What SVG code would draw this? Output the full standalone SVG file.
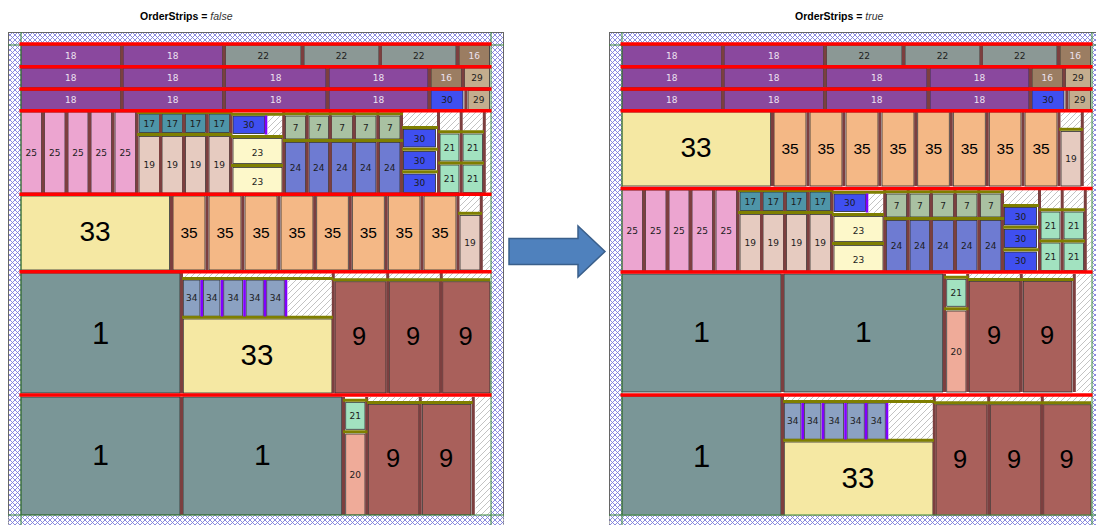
<svg xmlns="http://www.w3.org/2000/svg" width="1096" height="525" viewBox="0 0 1096 525">
<defs>
<style>
.p{stroke:#2b2b2b;stroke-width:0.8}
.c18{fill:#8a489e}.c22{fill:#8b9895}.c16{fill:#9b7d62}.c29{fill:#c4ad8e}.c30{fill:#3f4ff0}.c25{fill:#eca5d0}.c17{fill:#4e95a8}.c19{fill:#e6cbc0}.c23{fill:#fdf8ca}.c7{fill:#a9c1a2}.c24{fill:#6e7bd2}.c21{fill:#a2e2c0}.c33{fill:#f5e8a3}.c35{fill:#f4b886}.c1{fill:#7a9697}.c34{fill:#8ba1c2}.c9{fill:#a9605b}.c20{fill:#efab99}
.w{fill:url(#wh)}
.s{stroke:#7c3f3f;stroke-width:3;fill:none}
.o{stroke:#7f7f00;stroke-width:3;fill:none}
.u{stroke:#8000ff;stroke-width:2.6;fill:none}
.r{stroke:#ff0000;stroke-width:3.4;fill:none}
.g{stroke:#3a8a3a;stroke-width:1;fill:none}
.t{font-family:"DejaVu Sans",Verdana,sans-serif;font-size:9px;text-anchor:middle;fill:#1c1c1c}
.lt{fill:#ece2f0}
.b{font-family:"Liberation Sans",Arial,sans-serif;text-anchor:middle;fill:#000}
.ttl{font-family:"Liberation Sans",Arial,sans-serif;font-size:10.5px;fill:#000}
</style>
<pattern id="xh" patternUnits="userSpaceOnUse" width="5" height="5">
<rect width="5" height="5" fill="#fff"/>
<path d="M0,0L5,5M5,0L0,5" stroke="#7e7edc" stroke-width="0.9"/>
</pattern>
<pattern id="wh" patternUnits="userSpaceOnUse" width="6" height="6">
<rect width="6" height="6" fill="#fff"/>
<path d="M-1,1L1,-1M0,6L6,0M5,7L7,5" stroke="#b4b4b4" stroke-width="0.8"/>
</pattern>
</defs>
<rect width="1096" height="525" fill="#fff"/>

<text class="ttl" x="140" y="19.5"><tspan font-weight="bold">OrderStrips = </tspan><tspan font-style="italic" fill="#333">false</tspan></text>
<text class="ttl" x="795" y="19.5"><tspan font-weight="bold">OrderStrips = </tspan><tspan font-style="italic" fill="#333">true</tspan></text>

<path id="arrow" d="M509,238.5H578V226L605,251.5L578,277V264.5H509Z" fill="#4f81bd" stroke="#3a5f8b" stroke-width="1.5"/>

<!-- ================= LEFT PANEL ================= -->
<g id="panel-false">
<rect x="8.5" y="32.5" width="495" height="500" fill="url(#xh)" stroke="#666" stroke-width="1"/>
<rect x="21" y="45" width="470" height="470" fill="#fff"/>

<g id="L-rows">
<rect class="p c18" x="21" y="45.5" width="99.5" height="20"/>
<rect class="p c18" x="123" y="45.5" width="99.5" height="20"/>
<rect class="p c22" x="225.5" y="45.5" width="75.5" height="20"/>
<rect class="p c22" x="304" y="45.5" width="75" height="20"/>
<rect class="p c22" x="381.5" y="45.5" width="74.5" height="20"/>
<rect class="p c16" x="459" y="45.5" width="30.5" height="20"/>
<rect class="p c18" x="21" y="68" width="99.5" height="19.5"/>
<rect class="p c18" x="123" y="68" width="99.5" height="19.5"/>
<rect class="p c18" x="225.5" y="68" width="100.5" height="19.5"/>
<rect class="p c18" x="329" y="68" width="99" height="19.5"/>
<rect class="p c16" x="431" y="68" width="30.5" height="19.5"/>
<rect class="p c29" x="464.5" y="68" width="25" height="19.5"/>
<rect class="p c18" x="21" y="90.5" width="99.5" height="19"/>
<rect class="p c18" x="123" y="90.5" width="99.5" height="19"/>
<rect class="p c18" x="225.5" y="90.5" width="100.5" height="19"/>
<rect class="p c18" x="329" y="90.5" width="99" height="19"/>
<rect class="p c30" x="431" y="90.5" width="32" height="19"/>
<rect class="p c29" x="468" y="90.5" width="21.5" height="19"/>
<path class="s" d="M121.8,45V110M224,45V110M302.5,45V66M380.3,45V66M457.5,45V66M327.5,66V110M429.5,66V110M463,66V89M465.8,89V110"/>
<text class="t lt" x="70.8" y="58.5">18</text><text class="t lt" x="172.8" y="58.5">18</text>
<text class="t" x="263.3" y="58.5">22</text><text class="t" x="341.5" y="58.5">22</text><text class="t" x="418.8" y="58.5">22</text>
<text class="t lt" x="474.3" y="58.5">16</text>
<text class="t lt" x="70.8" y="80.5">18</text><text class="t lt" x="172.8" y="80.5">18</text><text class="t lt" x="275.8" y="80.5">18</text><text class="t lt" x="378.5" y="80.5">18</text>
<text class="t lt" x="446.3" y="80.5">16</text><text class="t" x="477" y="80.5">29</text>
<text class="t lt" x="70.8" y="103">18</text><text class="t lt" x="172.8" y="103">18</text><text class="t lt" x="275.8" y="103">18</text><text class="t lt" x="378.5" y="103">18</text>
<text class="t" x="447" y="103">30</text><text class="t" x="478.8" y="103">29</text>
</g>

<g id="L-strip-mixed">
<rect class="p c25" x="21" y="112" width="20.5" height="81"/>
<rect class="p c25" x="44.5" y="112" width="20.5" height="81"/>
<rect class="p c25" x="68" y="112" width="20" height="81"/>
<rect class="p c25" x="91" y="112" width="20.5" height="81"/>
<rect class="p c25" x="115" y="112" width="20.5" height="81"/>
<rect class="p c17" x="139" y="114" width="20.5" height="18.5"/>
<rect class="p c17" x="162" y="114" width="20.5" height="18.5"/>
<rect class="p c17" x="185.5" y="114" width="20" height="18.5"/>
<rect class="p c17" x="209" y="114" width="20.5" height="18.5"/>
<rect class="p c19" x="139" y="136.5" width="20.5" height="56.5"/>
<rect class="p c19" x="162" y="136.5" width="20.5" height="56.5"/>
<rect class="p c19" x="185.5" y="136.5" width="20" height="56.5"/>
<rect class="p c19" x="209" y="136.5" width="20.5" height="56.5"/>
<rect class="p c30" x="233" y="116" width="31.5" height="17.5"/>
<rect class="w" x="267.5" y="115" width="14.5" height="20"/>
<rect class="p c23" x="233" y="138.5" width="49" height="25"/>
<rect class="p c23" x="233" y="167.5" width="49" height="25.5"/>
<rect class="p c7" x="285.5" y="116" width="20" height="23"/>
<rect class="p c7" x="309" y="116" width="19.5" height="23"/>
<rect class="p c7" x="331.5" y="116" width="21" height="23"/>
<rect class="p c7" x="355.5" y="116" width="20.5" height="23"/>
<rect class="p c7" x="379.5" y="116" width="20.5" height="23"/>
<rect class="p c24" x="285.5" y="142.5" width="20" height="50.5"/>
<rect class="p c24" x="309" y="142.5" width="19.5" height="50.5"/>
<rect class="p c24" x="331.5" y="142.5" width="21" height="50.5"/>
<rect class="p c24" x="355.5" y="142.5" width="20.5" height="50.5"/>
<rect class="p c24" x="379.5" y="142.5" width="20.5" height="50.5"/>
<rect class="w" x="403" y="112" width="34" height="14"/>
<rect class="p c30" x="403.5" y="129.5" width="32" height="17.5"/>
<rect class="p c30" x="403.5" y="151.5" width="32" height="18"/>
<rect class="p c30" x="403.5" y="174" width="32" height="18.5"/>
<rect class="w" x="440" y="112" width="19" height="18"/>
<rect class="w" x="463" y="112" width="19.5" height="18"/>
<rect class="p c21" x="440" y="134" width="19" height="27"/>
<rect class="p c21" x="440" y="165" width="19" height="27.5"/>
<rect class="p c21" x="463" y="134" width="19.5" height="27"/>
<rect class="p c21" x="463" y="165" width="19.5" height="27.5"/>
<rect class="w" x="486" y="112" width="4.5" height="81"/>
<path class="s" d="M43,112V193M66.5,112V193M89.5,112V193M113,112V193M137,112V193M160.5,112V193M183.8,112V193M207.3,112V193M231,112V193M283.7,112V193M307.2,112V193M330.2,112V193M354,112V193M377.8,112V193M401.5,112V193M438.5,112V193M461.2,112V193M484.3,112V193"/>
<path class="o" d="M137,112.5H232M137,134.5H232M231,114.3H283M231,136.5H283M231,165.5H283M283,113.8H403M283,140.5H403M402,127.5H438M402,149.3H438M402,171.7H438M438,131.7H484M438,163H484"/>
<path class="u" d="M266,115.5V134.5"/>
<text class="t" font-size="9.5" x="31.3" y="155.7">25</text><text class="t" font-size="9.5" x="54.8" y="155.7">25</text><text class="t" font-size="9.5" x="78" y="155.7">25</text><text class="t" font-size="9.5" x="101.3" y="155.7">25</text><text class="t" font-size="9.5" x="125.3" y="155.7">25</text>
<text class="t" font-size="9.5" fill="#eef6f8" x="149.3" y="127">17</text><text class="t" font-size="9.5" fill="#eef6f8" x="172.3" y="127">17</text><text class="t" font-size="9.5" fill="#eef6f8" x="195.5" y="127">17</text><text class="t" font-size="9.5" fill="#eef6f8" x="219.3" y="127">17</text>
<text class="t" font-size="10" x="149.3" y="168.2">19</text><text class="t" font-size="10" x="172.3" y="168.2">19</text><text class="t" font-size="10" x="195.5" y="168.2">19</text><text class="t" font-size="10" x="219.3" y="168.2">19</text>
<text class="t" font-size="9.5" x="248.7" y="128">30</text>
<text class="t" font-size="12.5" x="257.5" y="155.6">23</text><text class="t" font-size="12.5" x="257.5" y="184.8">23</text>
<text class="t" font-size="10" x="295.5" y="131.2">7</text><text class="t" font-size="10" x="318.8" y="131.2">7</text><text class="t" font-size="10" x="342" y="131.2">7</text><text class="t" font-size="10" x="365.8" y="131.2">7</text><text class="t" font-size="10" x="389.8" y="131.2">7</text>
<text class="t" font-size="10" x="295.5" y="171.4">24</text><text class="t" font-size="10" x="318.8" y="171.4">24</text><text class="t" font-size="10" x="342" y="171.4">24</text><text class="t" font-size="10" x="365.8" y="171.4">24</text><text class="t" font-size="10" x="389.8" y="171.4">24</text>
<text class="t" font-size="9.5" x="419.5" y="141.7">30</text><text class="t" font-size="9.5" x="419.5" y="163.9">30</text><text class="t" font-size="9.5" x="419.5" y="186.4">30</text>
<text class="t" font-size="10" x="449.5" y="151.2">21</text><text class="t" font-size="10" x="472.8" y="151.2">21</text><text class="t" font-size="10" x="449.5" y="182.4">21</text><text class="t" font-size="10" x="472.8" y="182.4">21</text>
</g>

<g id="L-strip-33-35">
<rect class="p c33" x="21" y="196" width="148.5" height="74"/>
<rect class="p c35" x="173" y="196" width="32" height="74"/>
<rect class="p c35" x="209" y="196" width="32" height="74"/>
<rect class="p c35" x="245" y="196" width="32" height="74"/>
<rect class="p c35" x="281" y="196" width="32" height="74"/>
<rect class="p c35" x="316.7" y="196" width="31.6" height="74"/>
<rect class="p c35" x="352.3" y="196" width="32" height="74"/>
<rect class="p c35" x="388.3" y="196" width="31.7" height="74"/>
<rect class="p c35" x="424" y="196" width="32" height="74"/>
<rect class="w" x="460" y="196" width="20" height="16"/>
<rect class="p c19" x="460" y="215.5" width="20" height="54.5"/>
<rect class="w" x="482.7" y="196" width="7.8" height="74"/>
<path class="s" d="M171.5,196V270M207,196V270M242.8,196V270M278.8,196V270M314.7,196V270M350.3,196V270M386.3,196V270M422,196V270M458,196V270M481.3,196V270"/>
<path class="o" d="M458,213.3H482"/>
<text class="b" font-size="28" x="95" y="240.7">33</text>
<text class="b" font-size="15.5" x="189" y="237.5">35</text><text class="b" font-size="15.5" x="225" y="237.5">35</text><text class="b" font-size="15.5" x="261" y="237.5">35</text><text class="b" font-size="15.5" x="297" y="237.5">35</text><text class="b" font-size="15.5" x="332.5" y="237.5">35</text><text class="b" font-size="15.5" x="368.3" y="237.5">35</text><text class="b" font-size="15.5" x="404.2" y="237.5">35</text><text class="b" font-size="15.5" x="440" y="237.5">35</text>
<text class="t" font-size="10" x="470" y="246">19</text>
</g>

<g id="L-strip-1-34-33-9">
<rect class="p c1" x="21" y="273" width="159" height="120"/>
<rect class="w" x="183.3" y="273" width="148.7" height="5"/>
<rect class="p c34" x="183.3" y="280" width="16.7" height="36.3"/>
<rect class="p c34" x="203.3" y="280" width="16.7" height="36.3"/>
<rect class="p c34" x="223.7" y="280" width="19" height="36.3"/>
<rect class="p c34" x="246" y="280" width="17.3" height="36.3"/>
<rect class="p c34" x="266.7" y="280" width="17.6" height="36.3"/>
<rect class="w" x="287.7" y="280" width="44.3" height="36.3"/>
<rect class="p c33" x="183.3" y="319" width="148.7" height="74"/>
<rect class="w" x="335" y="273" width="155" height="6"/>
<rect class="p c9" x="335" y="281.7" width="51" height="111.3"/>
<rect class="p c9" x="389.3" y="281.7" width="50.7" height="111.3"/>
<rect class="p c9" x="442.7" y="281.7" width="47.3" height="111.3"/>
<path class="s" d="M181.5,273V393M333.3,273V393M387.7,273V393M441.3,273V393"/>
<path class="o" d="M182,278.5H333M182,317.3H333M333,279.7H490"/>
<path class="u" d="M201.7,280V316.5M222,280V316.5M244.5,280V316.5M265,280V316.5M286,280V316.5"/>
<text class="b" font-size="31" x="100.5" y="343.5">1</text>
<text class="t" font-size="8.5" x="191.7" y="300.8">34</text><text class="t" font-size="8.5" x="211.7" y="300.8">34</text><text class="t" font-size="8.5" x="233.2" y="300.8">34</text><text class="t" font-size="8.5" x="254.7" y="300.8">34</text><text class="t" font-size="8.5" x="275.5" y="300.8">34</text>
<text class="b" font-size="29.5" x="257" y="365">33</text>
<text class="b" font-size="25.5" x="359" y="345">9</text><text class="b" font-size="25.5" x="413" y="345">9</text><text class="b" font-size="25.5" x="465.5" y="345">9</text>
</g>

<g id="L-strip-1-1-21-20-9">
<rect class="p c1" x="21" y="397" width="159" height="118"/>
<rect class="p c1" x="183" y="397" width="158.7" height="118"/>
<rect class="p c21" x="345.7" y="402.3" width="19.3" height="27"/>
<rect class="p c20" x="345.7" y="434" width="19.3" height="81"/>
<rect class="w" x="368.3" y="397" width="104" height="4"/>
<rect class="p c9" x="368.3" y="404.3" width="50.7" height="110.7"/>
<rect class="p c9" x="422.3" y="404.3" width="48.7" height="110.7"/>
<rect class="w" x="475.7" y="397" width="14.8" height="118"/>
<path class="s" d="M181.5,397V515M343.5,397V515M366.7,397V515M420.3,397V515M473.3,397V515"/>
<path class="o" d="M343,400.3H367.5M343,431.7H367.5M367,402.5H472.7"/>
<text class="b" font-size="30" x="100.5" y="465">1</text>
<text class="b" font-size="30" x="262.3" y="465">1</text>
<text class="t" font-size="10" x="355.3" y="419.3">21</text>
<text class="t" font-size="10.5" x="355.3" y="478" fill="#4a2a2a">20</text>
<text class="b" font-size="25.5" x="393" y="467">9</text><text class="b" font-size="25.5" x="446" y="467">9</text>
</g>

<rect x="8.5" y="515.5" width="495" height="12" fill="url(#xh)"/>
<path class="g" d="M21,32V525M491,32V525M8,45H504M8,515H504"/>
<path class="r" d="M19.5,44H491.5M19.5,66.7H491.5M19.5,89H491.5M19.5,110.7H491.5M19.5,194.2H491.5M19.5,271.8H491.5M19.5,395H491.5"/>
</g>

<!-- ================= RIGHT PANEL ================= -->
<g id="panel-true">
<rect x="609.5" y="32.5" width="495" height="500" fill="url(#xh)" stroke="#666" stroke-width="1"/>
<rect x="622" y="45" width="470" height="470" fill="#fff"/>

<g id="R-rows" transform="translate(601,0)">
<rect class="p c18" x="21" y="45.5" width="99.5" height="20"/>
<rect class="p c18" x="123" y="45.5" width="99.5" height="20"/>
<rect class="p c22" x="225.5" y="45.5" width="75.5" height="20"/>
<rect class="p c22" x="304" y="45.5" width="75" height="20"/>
<rect class="p c22" x="381.5" y="45.5" width="74.5" height="20"/>
<rect class="p c16" x="459" y="45.5" width="30.5" height="20"/>
<rect class="p c18" x="21" y="68" width="99.5" height="19.5"/>
<rect class="p c18" x="123" y="68" width="99.5" height="19.5"/>
<rect class="p c18" x="225.5" y="68" width="100.5" height="19.5"/>
<rect class="p c18" x="329" y="68" width="99" height="19.5"/>
<rect class="p c16" x="431" y="68" width="30.5" height="19.5"/>
<rect class="p c29" x="464.5" y="68" width="25" height="19.5"/>
<rect class="p c18" x="21" y="90.5" width="99.5" height="19"/>
<rect class="p c18" x="123" y="90.5" width="99.5" height="19"/>
<rect class="p c18" x="225.5" y="90.5" width="100.5" height="19"/>
<rect class="p c18" x="329" y="90.5" width="99" height="19"/>
<rect class="p c30" x="431" y="90.5" width="32" height="19"/>
<rect class="p c29" x="468" y="90.5" width="21.5" height="19"/>
<path class="s" d="M121.8,45V110M224,45V110M302.5,45V66M380.3,45V66M457.5,45V66M327.5,66V110M429.5,66V110M463,66V89M465.8,89V110"/>
<text class="t lt" x="70.8" y="58.5">18</text><text class="t lt" x="172.8" y="58.5">18</text>
<text class="t" x="263.3" y="58.5">22</text><text class="t" x="341.5" y="58.5">22</text><text class="t" x="418.8" y="58.5">22</text>
<text class="t lt" x="474.3" y="58.5">16</text>
<text class="t lt" x="70.8" y="80.5">18</text><text class="t lt" x="172.8" y="80.5">18</text><text class="t lt" x="275.8" y="80.5">18</text><text class="t lt" x="378.5" y="80.5">18</text>
<text class="t lt" x="446.3" y="80.5">16</text><text class="t" x="477" y="80.5">29</text>
<text class="t lt" x="70.8" y="103">18</text><text class="t lt" x="172.8" y="103">18</text><text class="t lt" x="275.8" y="103">18</text><text class="t lt" x="378.5" y="103">18</text>
<text class="t" x="447" y="103">30</text><text class="t" x="478.8" y="103">29</text>
</g>

<g id="R-strip-33-35" transform="translate(601,-84)">
<rect class="p c33" x="21" y="196" width="148.5" height="74"/>
<rect class="p c35" x="173" y="196" width="32" height="74"/>
<rect class="p c35" x="209" y="196" width="32" height="74"/>
<rect class="p c35" x="245" y="196" width="32" height="74"/>
<rect class="p c35" x="281" y="196" width="32" height="74"/>
<rect class="p c35" x="316.7" y="196" width="31.6" height="74"/>
<rect class="p c35" x="352.3" y="196" width="32" height="74"/>
<rect class="p c35" x="388.3" y="196" width="31.7" height="74"/>
<rect class="p c35" x="424" y="196" width="32" height="74"/>
<rect class="w" x="460" y="196" width="20" height="16"/>
<rect class="p c19" x="460" y="215.5" width="20" height="54.5"/>
<rect class="w" x="482.7" y="196" width="7.8" height="74"/>
<path class="s" d="M171.5,196V270M207,196V270M242.8,196V270M278.8,196V270M314.7,196V270M350.3,196V270M386.3,196V270M422,196V270M458,196V270M481.3,196V270"/>
<path class="o" d="M458,213.3H482"/>
<text class="b" font-size="28" x="95" y="240.7">33</text>
<text class="b" font-size="15.5" x="189" y="237.5">35</text><text class="b" font-size="15.5" x="225" y="237.5">35</text><text class="b" font-size="15.5" x="261" y="237.5">35</text><text class="b" font-size="15.5" x="297" y="237.5">35</text><text class="b" font-size="15.5" x="332.5" y="237.5">35</text><text class="b" font-size="15.5" x="368.3" y="237.5">35</text><text class="b" font-size="15.5" x="404.2" y="237.5">35</text><text class="b" font-size="15.5" x="440" y="237.5">35</text>
<text class="t" font-size="10" x="470" y="246">19</text>
</g>

<g id="R-strip-mixed" transform="translate(601,78)">
<rect class="p c25" x="21" y="112" width="20.5" height="81"/>
<rect class="p c25" x="44.5" y="112" width="20.5" height="81"/>
<rect class="p c25" x="68" y="112" width="20" height="81"/>
<rect class="p c25" x="91" y="112" width="20.5" height="81"/>
<rect class="p c25" x="115" y="112" width="20.5" height="81"/>
<rect class="p c17" x="139" y="114" width="20.5" height="18.5"/>
<rect class="p c17" x="162" y="114" width="20.5" height="18.5"/>
<rect class="p c17" x="185.5" y="114" width="20" height="18.5"/>
<rect class="p c17" x="209" y="114" width="20.5" height="18.5"/>
<rect class="p c19" x="139" y="136.5" width="20.5" height="56.5"/>
<rect class="p c19" x="162" y="136.5" width="20.5" height="56.5"/>
<rect class="p c19" x="185.5" y="136.5" width="20" height="56.5"/>
<rect class="p c19" x="209" y="136.5" width="20.5" height="56.5"/>
<rect class="p c30" x="233" y="116" width="31.5" height="17.5"/>
<rect class="w" x="267.5" y="115" width="14.5" height="20"/>
<rect class="p c23" x="233" y="138.5" width="49" height="25"/>
<rect class="p c23" x="233" y="167.5" width="49" height="25.5"/>
<rect class="p c7" x="285.5" y="116" width="20" height="23"/>
<rect class="p c7" x="309" y="116" width="19.5" height="23"/>
<rect class="p c7" x="331.5" y="116" width="21" height="23"/>
<rect class="p c7" x="355.5" y="116" width="20.5" height="23"/>
<rect class="p c7" x="379.5" y="116" width="20.5" height="23"/>
<rect class="p c24" x="285.5" y="142.5" width="20" height="50.5"/>
<rect class="p c24" x="309" y="142.5" width="19.5" height="50.5"/>
<rect class="p c24" x="331.5" y="142.5" width="21" height="50.5"/>
<rect class="p c24" x="355.5" y="142.5" width="20.5" height="50.5"/>
<rect class="p c24" x="379.5" y="142.5" width="20.5" height="50.5"/>
<rect class="w" x="403" y="112" width="34" height="14"/>
<rect class="p c30" x="403.5" y="129.5" width="32" height="17.5"/>
<rect class="p c30" x="403.5" y="151.5" width="32" height="18"/>
<rect class="p c30" x="403.5" y="174" width="32" height="18.5"/>
<rect class="w" x="440" y="112" width="19" height="18"/>
<rect class="w" x="463" y="112" width="19.5" height="18"/>
<rect class="p c21" x="440" y="134" width="19" height="27"/>
<rect class="p c21" x="440" y="165" width="19" height="27.5"/>
<rect class="p c21" x="463" y="134" width="19.5" height="27"/>
<rect class="p c21" x="463" y="165" width="19.5" height="27.5"/>
<rect class="w" x="486" y="112" width="4.5" height="81"/>
<path class="s" d="M43,112V193M66.5,112V193M89.5,112V193M113,112V193M137,112V193M160.5,112V193M183.8,112V193M207.3,112V193M231,112V193M283.7,112V193M307.2,112V193M330.2,112V193M354,112V193M377.8,112V193M401.5,112V193M438.5,112V193M461.2,112V193M484.3,112V193"/>
<path class="o" d="M137,112.5H232M137,134.5H232M231,114.3H283M231,136.5H283M231,165.5H283M283,113.8H403M283,140.5H403M402,127.5H438M402,149.3H438M402,171.7H438M438,131.7H484M438,163H484"/>
<path class="u" d="M266,115.5V134.5"/>
<text class="t" font-size="9.5" x="31.3" y="155.7">25</text><text class="t" font-size="9.5" x="54.8" y="155.7">25</text><text class="t" font-size="9.5" x="78" y="155.7">25</text><text class="t" font-size="9.5" x="101.3" y="155.7">25</text><text class="t" font-size="9.5" x="125.3" y="155.7">25</text>
<text class="t" font-size="9.5" fill="#eef6f8" x="149.3" y="127">17</text><text class="t" font-size="9.5" fill="#eef6f8" x="172.3" y="127">17</text><text class="t" font-size="9.5" fill="#eef6f8" x="195.5" y="127">17</text><text class="t" font-size="9.5" fill="#eef6f8" x="219.3" y="127">17</text>
<text class="t" font-size="10" x="149.3" y="168.2">19</text><text class="t" font-size="10" x="172.3" y="168.2">19</text><text class="t" font-size="10" x="195.5" y="168.2">19</text><text class="t" font-size="10" x="219.3" y="168.2">19</text>
<text class="t" font-size="9.5" x="248.7" y="128">30</text>
<text class="t" font-size="12.5" x="257.5" y="155.6">23</text><text class="t" font-size="12.5" x="257.5" y="184.8">23</text>
<text class="t" font-size="10" x="295.5" y="131.2">7</text><text class="t" font-size="10" x="318.8" y="131.2">7</text><text class="t" font-size="10" x="342" y="131.2">7</text><text class="t" font-size="10" x="365.8" y="131.2">7</text><text class="t" font-size="10" x="389.8" y="131.2">7</text>
<text class="t" font-size="10" x="295.5" y="171.4">24</text><text class="t" font-size="10" x="318.8" y="171.4">24</text><text class="t" font-size="10" x="342" y="171.4">24</text><text class="t" font-size="10" x="365.8" y="171.4">24</text><text class="t" font-size="10" x="389.8" y="171.4">24</text>
<text class="t" font-size="9.5" x="419.5" y="141.7">30</text><text class="t" font-size="9.5" x="419.5" y="163.9">30</text><text class="t" font-size="9.5" x="419.5" y="186.4">30</text>
<text class="t" font-size="10" x="449.5" y="151.2">21</text><text class="t" font-size="10" x="472.8" y="151.2">21</text><text class="t" font-size="10" x="449.5" y="182.4">21</text><text class="t" font-size="10" x="472.8" y="182.4">21</text>
</g>

<g id="R-strip-1-1-21-20-9" transform="translate(601,-123)">
<rect class="p c1" x="21" y="397" width="159" height="118"/>
<rect class="p c1" x="183" y="397" width="158.7" height="118"/>
<rect class="p c21" x="345.7" y="402.3" width="19.3" height="27"/>
<rect class="p c20" x="345.7" y="434" width="19.3" height="81"/>
<rect class="w" x="368.3" y="397" width="104" height="4"/>
<rect class="p c9" x="368.3" y="404.3" width="50.7" height="110.7"/>
<rect class="p c9" x="422.3" y="404.3" width="48.7" height="110.7"/>
<rect class="w" x="475.7" y="397" width="14.8" height="118"/>
<path class="s" d="M181.5,397V515M343.5,397V515M366.7,397V515M420.3,397V515M473.3,397V515"/>
<path class="o" d="M343,400.3H367.5M343,431.7H367.5M367,402.5H472.7"/>
<text class="b" font-size="30" x="100.5" y="465">1</text>
<text class="b" font-size="30" x="262.3" y="465">1</text>
<text class="t" font-size="10" x="355.3" y="419.3">21</text>
<text class="t" font-size="10.5" x="355.3" y="478" fill="#4a2a2a">20</text>
<text class="b" font-size="25.5" x="393" y="467">9</text><text class="b" font-size="25.5" x="446" y="467">9</text>
</g>

<g id="R-strip-1-34-33-9" transform="translate(601,123)">
<rect class="p c1" x="21" y="273" width="159" height="120"/>
<rect class="w" x="183.3" y="273" width="148.7" height="5"/>
<rect class="p c34" x="183.3" y="280" width="16.7" height="36.3"/>
<rect class="p c34" x="203.3" y="280" width="16.7" height="36.3"/>
<rect class="p c34" x="223.7" y="280" width="19" height="36.3"/>
<rect class="p c34" x="246" y="280" width="17.3" height="36.3"/>
<rect class="p c34" x="266.7" y="280" width="17.6" height="36.3"/>
<rect class="w" x="287.7" y="280" width="44.3" height="36.3"/>
<rect class="p c33" x="183.3" y="319" width="148.7" height="74"/>
<rect class="w" x="335" y="273" width="155" height="6"/>
<rect class="p c9" x="335" y="281.7" width="51" height="111.3"/>
<rect class="p c9" x="389.3" y="281.7" width="50.7" height="111.3"/>
<rect class="p c9" x="442.7" y="281.7" width="47.3" height="111.3"/>
<path class="s" d="M181.5,273V393M333.3,273V393M387.7,273V393M441.3,273V393"/>
<path class="o" d="M182,278.5H333M182,317.3H333M333,279.7H490"/>
<path class="u" d="M201.7,280V316.5M222,280V316.5M244.5,280V316.5M265,280V316.5M286,280V316.5"/>
<text class="b" font-size="31" x="100.5" y="343.5">1</text>
<text class="t" font-size="8.5" x="191.7" y="300.8">34</text><text class="t" font-size="8.5" x="211.7" y="300.8">34</text><text class="t" font-size="8.5" x="233.2" y="300.8">34</text><text class="t" font-size="8.5" x="254.7" y="300.8">34</text><text class="t" font-size="8.5" x="275.5" y="300.8">34</text>
<text class="b" font-size="29.5" x="257" y="365">33</text>
<text class="b" font-size="25.5" x="359" y="345">9</text><text class="b" font-size="25.5" x="413" y="345">9</text><text class="b" font-size="25.5" x="465.5" y="345">9</text>
</g>

<rect x="609.5" y="515.5" width="495" height="12" fill="url(#xh)"/>
<path class="g" d="M622,32V525M1092,32V525M609,45H1105M609,515H1105"/>
<path class="r" d="M620.5,44H1092.5M620.5,66.7H1092.5M620.5,89H1092.5M620.5,110.7H1092.5M620.5,188.5H1092.5M620.5,272H1092.5M620.5,395H1092.5"/>
</g>
</svg>
